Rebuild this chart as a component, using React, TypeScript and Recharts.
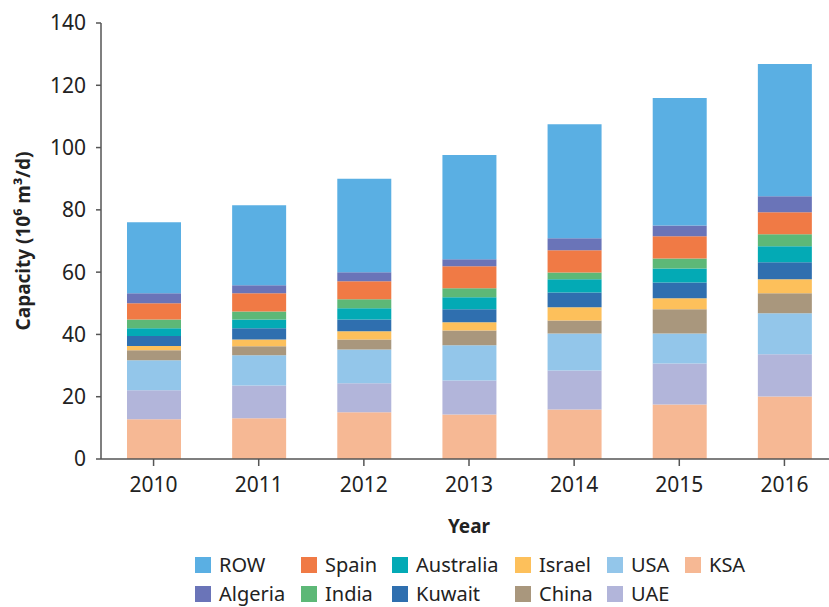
import { BarChart, Bar, XAxis, YAxis } from "recharts";

const years = ["2010", "2011", "2012", "2013", "2014", "2015", "2016"];

// stacked bottom to top
const ksa = [12.8, 13.1, 15.0, 14.3, 15.9, 17.5, 20.1];
const uae = [9.3, 10.5, 9.3, 10.9, 12.5, 13.2, 13.5];
const usa = [9.6, 9.7, 10.9, 11.3, 11.9, 9.6, 13.2];
const china = [3.2, 2.9, 3.2, 4.8, 4.2, 7.8, 6.4];
const israel = [1.4, 2.2, 2.6, 2.6, 4.2, 3.5, 4.5];
const kuwait = [3.2, 3.6, 3.8, 4.2, 4.8, 5.1, 5.5];
const australia = [2.5, 2.8, 3.6, 3.8, 4.2, 4.5, 5.1];
const india = [2.8, 2.6, 2.9, 2.9, 2.2, 3.2, 3.9];
const spain = [5.2, 5.8, 5.8, 7.1, 7.1, 7.1, 7.0];
const algeria = [3.2, 2.6, 2.9, 2.2, 3.9, 3.5, 5.2];
const rowOther = [22.8, 25.7, 30.0, 33.5, 36.6, 40.9, 42.4];

const yTicks = [0, 20, 40, 60, 80, 100, 120, 140];

const series = [
  { key: "KSA", values: ksa, color: "#f6b894" },
  { key: "UAE", values: uae, color: "#b2b5da" },
  { key: "USA", values: usa, color: "#93c6ea" },
  { key: "China", values: china, color: "#a9977d" },
  { key: "Israel", values: israel, color: "#fdc05b" },
  { key: "Kuwait", values: kuwait, color: "#2f6faf" },
  { key: "Australia", values: australia, color: "#03aab5" },
  { key: "India", values: india, color: "#5db877" },
  { key: "Spain", values: spain, color: "#f07a45" },
  { key: "Algeria", values: algeria, color: "#6a74b8" },
  { key: "ROW", values: rowOther, color: "#5aafe3" },
];

const data = years.map((year, i) => {
  const d: Record<string, number | string> = { year };
  series.forEach((s) => (d[s.key] = s.values[i]));
  return d;
});

// legend layout: column-major, top of stack first
const legendOrder = ["ROW", "Algeria", "Spain", "India", "Australia", "Kuwait", "Israel", "China", "USA", "UAE", "KSA"];
const legendCols = [195, 301, 392, 515, 607, 685];
const legendRows = [565, 594];

const font = "'Noto Sans', sans-serif";
const axisColor = "#555";

export default function App() {
  return (
    <div style={{ position: "absolute", left: 0, top: 0, width: 829, height: 607, overflow: "hidden", background: "#fff", fontFamily: font }}>
      <BarChart width={840} height={541} data={data} margin={{ top: 23, right: 3, left: 0, bottom: 0 }} barSize={54}>
        <XAxis
          dataKey="year"
          height={82}
          stroke={axisColor}
          strokeWidth={1.5}
          tickSize={7}
          tickMargin={11}
          tick={{ fill: "#222", fontSize: 21, fontFamily: font }}
          label={{ value: "Year", position: "insideBottom", offset: 8, fill: "#222", fontSize: 19, fontWeight: 700, fontFamily: font }}
        />
        <YAxis
          width={101}
          domain={[0, 140]}
          ticks={yTicks}
          stroke={axisColor}
          strokeWidth={1.5}
          tickSize={5}
          tickMargin={10}
          tick={{ fill: "#222", fontSize: 21, fontFamily: font }}
          label={{
            content: () => (
              <text
                x={23}
                y={241}
                transform="rotate(-90 23 241)"
                textAnchor="middle"
                dominantBaseline="central"
                fill="#222"
                fontSize={19}
                fontWeight={700}
                fontFamily={font}
              >
                Capacity (10⁶ m³/d)
              </text>
            ),
          }}
        />
        {series.map((s) => (
          <Bar key={s.key} dataKey={s.key} stackId="a" fill={s.color} isAnimationActive={false} />
        ))}
      </BarChart>
      {legendOrder.map((name, i) => {
        const s = series.find((x) => x.key === name)!;
        const col = Math.floor(i / 2);
        const r = i % 2;
        return (
          <div
            key={name}
            style={{ position: "absolute", left: legendCols[col], top: legendRows[r] - 10, display: "flex", alignItems: "center", height: 20, lineHeight: "20px", fontSize: 20, color: "#222", whiteSpace: "nowrap" }}
          >
            <span style={{ width: 16, height: 16, background: s.color, display: "inline-block", marginRight: 8 }} />
            {name}
          </div>
        );
      })}
    </div>
  );
}
